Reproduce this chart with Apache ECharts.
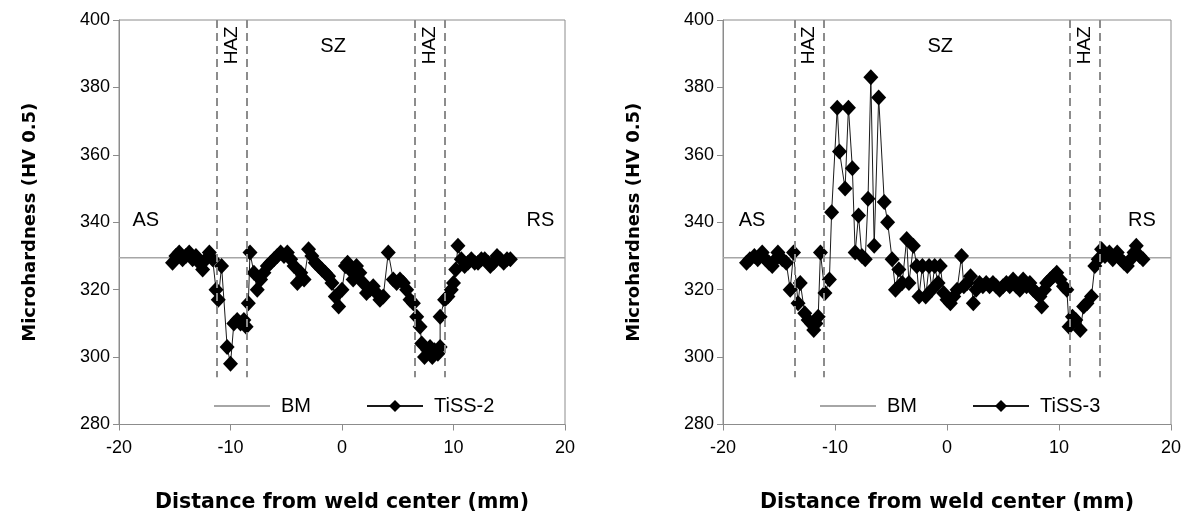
<!DOCTYPE html>
<html>
<head>
<meta charset="utf-8">
<script src="https://cdn.jsdelivr.net/npm/echarts@6/dist/echarts.min.js"></script>
<style>html,body{margin:0;padding:0;background:#fff}#c{width:1192px;height:522px}</style>
</head>
<body>
<div id="c"></div>
<script>
// ---- data ----
const xTicks = [-20, -10, 0, 10, 20];
const yTicks = [280, 300, 320, 340, 360, 380, 400];
const bmValue = 329.5;

const tiss2X = [-15.2,-14.9,-14.6,-14.3,-14.0,-13.7,-13.4,-13.1,-12.8,-12.5,-12.2,-11.9,-11.6,-11.3,-11.1,-10.8,-10.3,-10.0,-9.7,-9.4,-9.1,-8.8,-8.6,-8.4,-8.25,-7.9,-7.6,-7.3,-7.0,-6.7,-6.4,-6.1,-5.8,-5.5,-5.2,-4.9,-4.6,-4.3,-4.0,-3.7,-3.4,-3.0,-2.7,-2.4,-2.1,-1.8,-1.5,-1.2,-0.9,-0.6,-0.3,0.0,0.3,0.5,0.7,1.0,1.3,1.6,1.9,2.2,2.5,2.8,3.1,3.4,3.7,4.15,4.6,4.9,5.2,5.5,5.8,6.1,6.4,6.7,7.0,7.15,7.4,7.7,7.9,8.1,8.3,8.6,8.8,8.8,9.2,9.5,9.8,10.0,10.2,10.4,10.7,11.0,11.3,11.6,11.9,12.2,12.5,12.8,13.1,13.3,13.6,13.9,14.2,14.5,14.8,15.1];
const tiss2Y = [328,330,331,329,330,331,329,330,328,326,329,331,329,320,317,327,303,298,310,311,310,311,309,316,331,325,320,323,325,327,328,329,330,331,330,331,329,327,322,325,323,332,330,328,327,326,325,324,322,318,315,320,327,328,326,323,327,325,322,319,320,321,319,317,318,331,323,322,323,322,320,317,316,312,309,304,300,302,303,300,302,301,303,312,317,318,320,322,326,333,329,327,328,329,328,328,329,329,328,327,328,330,329,328,329,329];

const tiss3X = [-17.9,-17.6,-17.2,-16.9,-16.5,-16.2,-15.9,-15.6,-15.3,-15.1,-14.7,-14.35,-14.0,-13.7,-13.3,-13.1,-12.7,-12.4,-12.1,-11.9,-11.7,-11.5,-11.3,-10.9,-10.5,-10.3,-9.8,-9.6,-9.1,-8.8,-8.45,-8.2,-7.9,-7.6,-7.3,-7.05,-6.8,-6.5,-6.1,-5.6,-5.3,-4.9,-4.6,-4.3,-4.0,-3.6,-3.4,-3.0,-2.7,-2.5,-2.2,-1.9,-1.6,-1.35,-1.1,-0.8,-0.6,-0.3,0.0,0.3,0.6,0.9,1.3,1.5,1.8,2.1,2.35,2.6,2.9,3.2,3.5,3.8,4.1,4.4,4.7,5.0,5.3,5.6,5.9,6.2,6.5,6.8,7.1,7.4,7.7,8.0,8.3,8.45,8.7,8.9,9.2,9.5,9.8,10.1,10.4,10.7,10.9,11.2,11.5,11.9,12.2,12.5,12.9,13.2,13.5,13.8,14.1,14.5,14.8,15.2,15.5,15.8,16.1,16.4,16.7,16.9,17.2,17.5];
const tiss3Y = [328,329,330,329,331,329,328,327,329,331,329,328,320,331,316,322,313,311,310,308,310,312,331,319,323,343,374,361,350,374,356,331,342,330,329,347,383,333,377,346,340,329,320,326,322,335,322,333,327,318,327,318,327,320,327,322,327,319,317,316,318,320,330,321,322,324,316,320,322,321,322,321,322,321,320,321,322,321,323,321,320,323,321,322,320,319,318,315,320,322,323,324,325,323,321,320,309,312,311,308,315,316,318,327,329,332,330,331,329,331,329,328,327,329,331,333,330,329];

const left = { haz: [-11.2, -8.5, 6.5, 9.2], sz: -0.8, as: -17.6, rs: 17.8 };
const right = { haz: [-13.6, -11.0, 11.0, 13.6], sz: -0.6, as: -17.4, rs: 17.4 };
const dashBottom = 294;

// ---- chart ----
const FONT = "'Liberation Sans', Arial, sans-serif";
const TITLE_FONT = "'DejaVu Sans', Verdana, sans-serif";
const pair = (xs, ys) => xs.map((x, i) => [x, ys[i]]);

function xAxis(gi) {
  return {
    gridIndex: gi, type: 'value', min: -20, max: 20, interval: 10,
    name: 'Distance from weld center (mm)', nameLocation: 'middle', nameGap: 68,
    nameTextStyle: { fontFamily: TITLE_FONT, fontSize: 20.5, fontWeight: 'bold', color: '#000' },
    axisLine: { show: true, onZero: false, lineStyle: { color: '#8c8c8c', width: 1 } },
    axisTick: { show: true, inside: false, length: 6, lineStyle: { color: '#8c8c8c' } },
    axisLabel: { margin: 15, fontFamily: FONT, fontSize: 18, color: '#000',
      formatter: v => xTicks.includes(v) ? String(v) : '' },
    splitLine: { show: false }
  };
}
function yAxis(gi) {
  return {
    gridIndex: gi, type: 'value', min: 280, max: 400, interval: 20,
    name: 'Microhardness (HV 0.5)', nameLocation: 'middle', nameGap: 80,
    nameTextStyle: { fontFamily: TITLE_FONT, fontSize: 18, fontWeight: 'bold', color: '#000' },
    axisLine: { show: true, onZero: false, lineStyle: { color: '#8c8c8c', width: 1 } },
    axisTick: { show: true, inside: false, length: 6, lineStyle: { color: '#8c8c8c' } },
    axisLabel: { margin: 9, fontFamily: FONT, fontSize: 18, color: '#000',
      formatter: v => yTicks.includes(v) ? String(v) : '' },
    splitLine: { show: false }
  };
}
function textPoint(coord, text, rotate, size) {
  return { coord: coord, value: text,
    label: { show: true, formatter: text, rotate: rotate || 0, fontSize: size || 20 } };
}
function zoneMarks(z) {
  const dashed = z.haz.map(x => [{ coord: [x, 400] }, { coord: [x, dashBottom] }]);
  return {
    markLine: {
      silent: true, symbol: ['none', 'none'], label: { show: false },
      lineStyle: { type: [8, 5], color: '#8c8c8c', width: 2 },
      data: dashed
    },
    markPoint: {
      silent: true, symbol: 'circle', symbolSize: 1, itemStyle: { color: 'rgba(0,0,0,0)' },
      label: { show: true, position: 'inside', fontFamily: FONT, fontSize: 20, color: '#000' },
      data: [
        textPoint([(z.haz[0] + z.haz[1]) / 2, 392.5], 'HAZ', 90, 19),
        textPoint([(z.haz[2] + z.haz[3]) / 2, 392.5], 'HAZ', 90, 19),
        textPoint([z.sz, 392], 'SZ'),
        textPoint([z.as, 340.5], 'AS'),
        textPoint([z.rs, 340.5], 'RS')
      ]
    }
  };
}
function bmSeries(gi) {
  return {
    name: 'BM', type: 'line', xAxisIndex: gi, yAxisIndex: gi, symbol: 'none',
    data: [[-20, bmValue], [20, bmValue]],
    lineStyle: { color: '#a6a6a6', width: 1.5 }, itemStyle: { color: '#a6a6a6' }, z: 1
  };
}
function tissSeries(gi, name, xs, ys, z) {
  return Object.assign({
    name: name, type: 'line', xAxisIndex: gi, yAxisIndex: gi,
    data: pair(xs, ys), symbol: 'diamond', symbolSize: [15, 16], showSymbol: true,
    lineStyle: { color: '#1a1a1a', width: 1 }, itemStyle: { color: '#000' }, z: 3
  }, zoneMarks(z));
}
function legend(leftPx, name2) {
  return {
    left: leftPx, top: 396, padding: 0, orient: 'horizontal', itemWidth: 56, itemHeight: 15, itemGap: 55,
    data: [{ name: 'BM', itemStyle: { opacity: 0 } }, name2], selectedMode: false,
    textStyle: { fontFamily: FONT, fontSize: 20, color: '#000', padding: [0, 0, 0, 6] }
  };
}

const chart = echarts.init(document.getElementById('c'), null, { renderer: 'canvas' });
chart.setOption({
  animation: false,
  backgroundColor: '#fff',
  grid: [
    { left: 119, top: 20, width: 446, height: 404.5, show: true, borderColor: '#8c8c8c', borderWidth: 1 },
    { left: 723, top: 20, width: 448, height: 404.5, show: true, borderColor: '#8c8c8c', borderWidth: 1 }
  ],
  xAxis: [xAxis(0), xAxis(1)],
  yAxis: [yAxis(0), yAxis(1)],
  legend: [legend(213, 'TiSS-2'), legend(819, 'TiSS-3')],
  series: [
    bmSeries(0), tissSeries(0, 'TiSS-2', tiss2X, tiss2Y, left),
    bmSeries(1), tissSeries(1, 'TiSS-3', tiss3X, tiss3Y, right)
  ]
});
</script>
</body>
</html>
